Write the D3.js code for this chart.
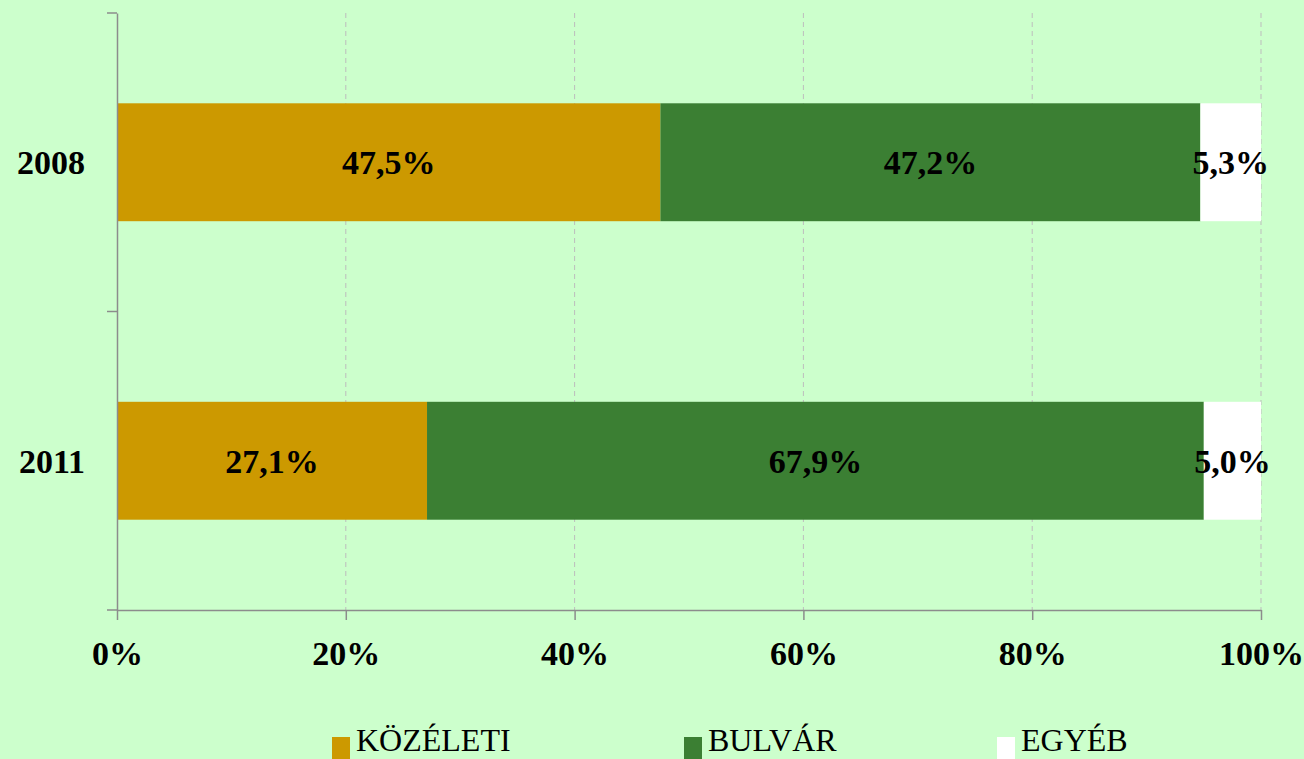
<!DOCTYPE html>
<html><head><meta charset="utf-8">
<script src="https://cdn.jsdelivr.net/npm/d3@7"></script>
<style>
html,body{margin:0;padding:0;background:#CCFFCC;}
svg{display:block;}
</style></head>
<body>
<svg id="chart" width="1304" height="759"></svg>
<script>
const categories = ["2008", "2011"];
const seriesNames = ["KÖZÉLETI", "BULVÁR", "EGYÉB"];
const kozeleti = [47.5, 27.1];
const bulvar = [47.2, 67.9];
const egyeb = [5.3, 5.0];
const tickValues = [0, 20, 40, 60, 80, 100];
const colors = ["#CC9900", "#3B7F33", "#FFFFFF"];

const svg = d3.select("#chart");
const W = 1304, H = 759;
const m = {left: 117, right: 1261, top: 13, bottom: 610};
const font = "'Liberation Serif','Times New Roman',serif";

svg.append("rect").attr("width", W).attr("height", H).attr("fill", "#CCFFCC");

const x = d3.scaleLinear().domain([0, 100]).range([m.left, m.right]);
const y = d3.scaleBand().domain(categories).range([m.top, m.bottom])
  .paddingInner(0.605).paddingOuter(0.3025);

// gridlines
svg.append("g").selectAll("line").data(tickValues.filter(d => d > 0)).join("line")
  .attr("x1", d => x(d)).attr("x2", d => x(d))
  .attr("y1", m.top).attr("y2", m.bottom)
  .attr("stroke", "#BDBDBD").attr("stroke-width", 1).attr("stroke-dasharray", "5,4");

// stacked data
const rows = categories.map((c, i) => ({cat: c, "KÖZÉLETI": kozeleti[i], "BULVÁR": bulvar[i], "EGYÉB": egyeb[i]}));
const stack = d3.stack().keys(seriesNames)(rows);

const layers = svg.append("g").selectAll("g").data(stack).join("g")
  .attr("fill", (d, i) => colors[i]);
layers.selectAll("rect").data(d => d).join("rect")
  .attr("x", d => x(d[0]))
  .attr("width", d => x(d[1]) - x(d[0]))
  .attr("y", d => y(d.data.cat))
  .attr("height", y.bandwidth());

// data labels
const fmt = v => v.toFixed(1).replace(".", ",") + "%";
svg.append("g").selectAll("g").data(stack).join("g")
  .selectAll("text").data(d => d.map(p => ({p, key: d.key}))).join("text")
  .attr("x", d => (x(d.p[0]) + x(d.p[1])) / 2)
  .attr("y", d => y(d.p.data.cat) + y.bandwidth() / 2 + 12)
  .attr("text-anchor", "middle")
  .attr("font-family", font).attr("font-weight", "bold").attr("font-size", 34)
  .attr("fill", "#000")
  .text(d => fmt(d.p.data[d.key]));

// axes
const axisColor = "#8C8C8C";
const xAxis = svg.append("g").attr("transform", `translate(0,${m.bottom})`)
  .call(d3.axisBottom(x).tickValues(tickValues).tickSize(10).tickSizeOuter(0).tickFormat(d => d + "%"));
xAxis.select(".domain").attr("stroke", axisColor).attr("stroke-width", 1.5);
xAxis.selectAll(".tick line").attr("stroke", axisColor).attr("stroke-width", 1.5);
xAxis.selectAll(".tick text").attr("font-family", font).attr("font-weight", "bold")
  .attr("font-size", 34).attr("fill", "#000").attr("y", 55).attr("dy", 0);

const yAxis = svg.append("g").attr("transform", `translate(${m.left},0)`)
  .call(d3.axisLeft(y).tickSize(0).tickSizeOuter(0));
yAxis.select(".domain").attr("stroke", axisColor).attr("stroke-width", 1.5);
yAxis.selectAll(".tick text").attr("font-family", font).attr("font-weight", "bold")
  .attr("font-size", 34).attr("fill", "#000").attr("x", -32).attr("dy", 12);
// y boundary ticks
const yb = [m.top, m.top + (m.bottom - m.top) / 2, m.bottom];
svg.append("g").selectAll("line").data(yb).join("line")
  .attr("x1", m.left - 10).attr("x2", m.left).attr("y1", d => d).attr("y2", d => d)
  .attr("stroke", axisColor).attr("stroke-width", 1.5);

// legend
const legendX = [332, 684, 997];
const lg = svg.append("g").selectAll("g").data(seriesNames).join("g")
  .attr("transform", (d, i) => `translate(${legendX[i]},0)`);
lg.append("rect").attr("x", 0).attr("y", 737).attr("width", 18).attr("height", 22)
  .attr("fill", (d, i) => colors[i]);
lg.append("text").attr("x", 24).attr("y", 751)
  .attr("font-family", font).attr("font-size", 32).attr("fill", "#000")
  .text(d => d);
</script>
</body></html>
